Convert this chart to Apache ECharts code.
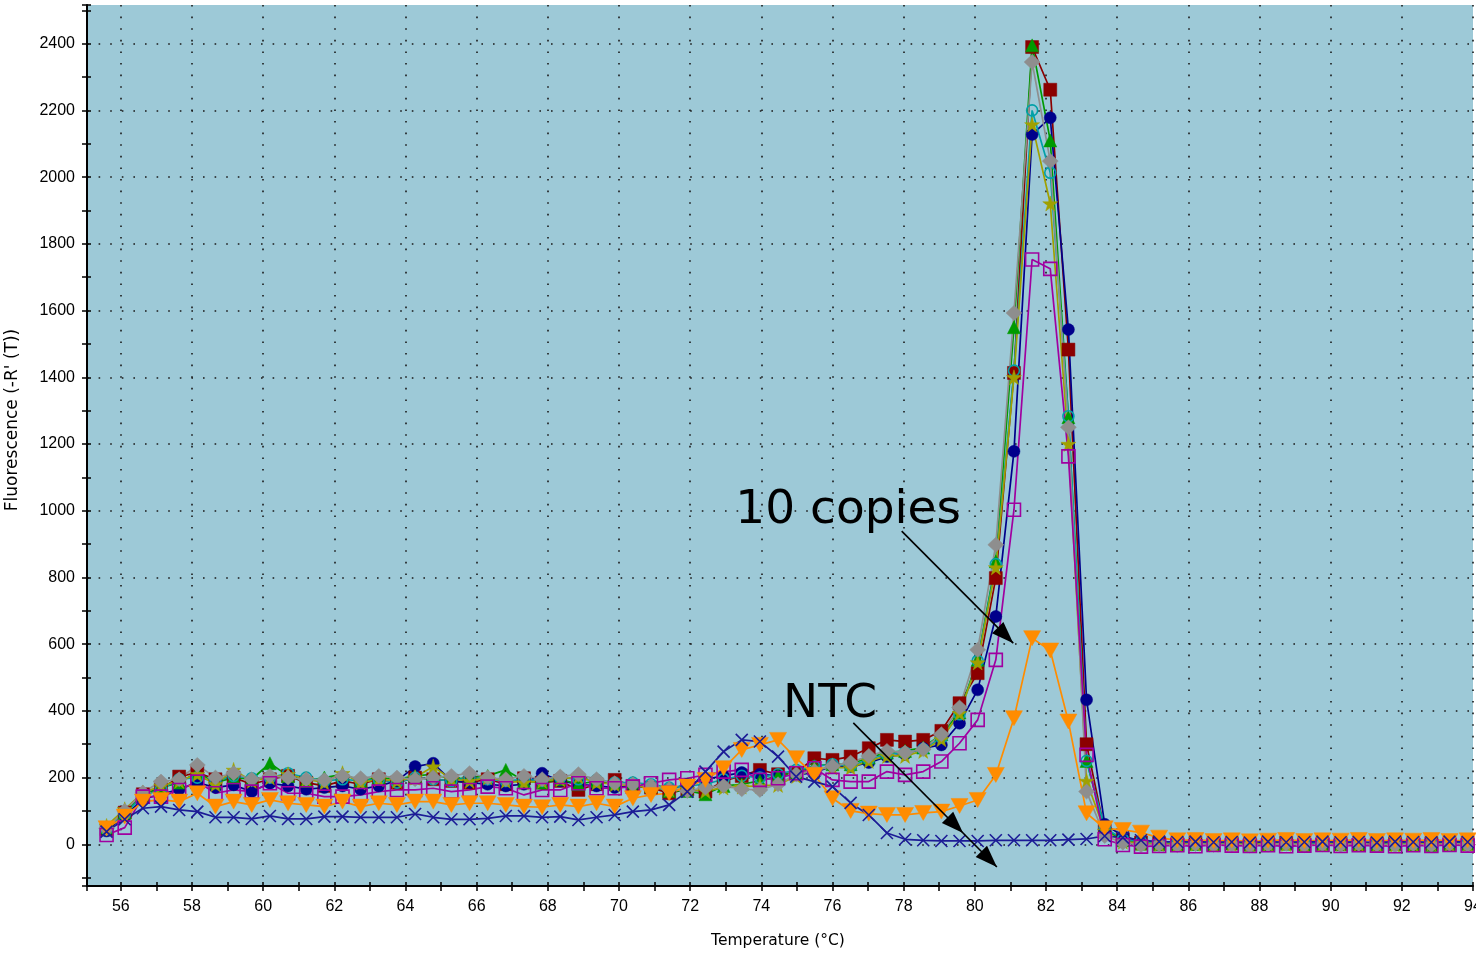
<!DOCTYPE html>
<html>
<head>
<meta charset="utf-8">
<script src="https://cdn.jsdelivr.net/npm/echarts@6/dist/echarts.min.js"></script>
<style>
  html, body { margin: 0; padding: 0; background: #ffffff; }
  #chart { width: 1476px; height: 954px; }
</style>
</head>
<body>
<div id="chart"></div>
<script>
// Melt-curve readings: temperature (°C) of each acquisition step
const temps = [
  55.60, 56.11, 56.62, 57.13, 57.64, 58.15, 58.66, 59.17, 59.68, 60.19,
  60.70, 61.21, 61.72, 62.23, 62.74, 63.25, 63.76, 64.27, 64.78, 65.29,
  65.80, 66.31, 66.82, 67.33, 67.84, 68.35, 68.86, 69.37, 69.88, 70.39,
  70.90, 71.41, 71.92, 72.43, 72.94, 73.45, 73.96, 74.47, 74.98, 75.49,
  76.00, 76.51, 77.02, 77.53, 78.04, 78.55, 79.06, 79.57, 80.08, 80.59,
  81.10, 81.61, 82.12, 82.63, 83.14, 83.65, 84.16, 84.67, 85.18, 85.69,
  86.20, 86.71, 87.22, 87.73, 88.24, 88.75, 89.26, 89.77, 90.28, 90.79,
  91.30, 91.81, 92.32, 92.83, 93.34, 93.85
];

// Fluorescence -R'(T) for each well
const wellA = [
  45, 95, 150, 165, 203, 215, 195, 200, 180, 195,
  205, 185, 175, 190, 180, 195, 185, 200, 195, 190,
  185, 195, 180, 198, 185, 190, 163, 180, 193, 175,
  170, 153, 165, 158, 190, 205, 223, 210, 215, 258,
  253, 263, 288, 313, 308, 313, 340, 423, 513, 798,
  1413, 2390, 2262, 1483, 300, 40, 15, 5, 3, 2,
  4, 1, 3, 0, 2, 5, 1, 3, 2, 0,
  4, 2, 1, 3, 2, 4
];
const wellB = [
  40, 85, 135, 150, 165, 185, 170, 178, 158, 183,
  175, 165, 170, 175, 165, 175, 190, 233, 243, 190,
  185, 180, 175, 180, 213, 190, 180, 175, 170, 175,
  170, 165, 180, 195, 205, 215, 210, 205, 208, 215,
  235, 233, 245, 263, 270, 288, 298, 363, 463, 683,
  1178, 2128, 2178, 1543, 433, 60, 25, 10, 6, 5,
  7, 4, 6, 5, 3, 6, 5, 4, 7, 5,
  4, 6, 5, 4, 6, 5
];
const wellC = [
  50, 95, 150, 170, 185, 215, 185, 200, 195, 243,
  205, 190, 200, 210, 190, 200, 195, 205, 210, 195,
  200, 205, 223, 190, 185, 195, 180, 190, 183, 185,
  175, 160, 160, 150, 175, 180, 190, 205, 215, 235,
  240, 240, 260, 275, 280, 290, 330, 395, 553, 848,
  1550, 2395, 2110, 1280, 250, 45, 12, 2, 0, -2,
  1, 0, 3, -1, 0, 2, -2, 1, 0, 2,
  -1, 0, 1, -2, 0, 1
];
const wellD = [
  45, 90, 145, 165, 195, 200, 190, 205, 198, 200,
  213, 200, 190, 195, 190, 195, 185, 200, 195, 190,
  200, 195, 190, 195, 190, 200, 195, 193, 185, 185,
  180, 170, 175, 180, 195, 205, 200, 210, 223, 233,
  240, 235, 255, 270, 275, 285, 320, 390, 550, 840,
  1420, 2200, 2013, 1283, 250, 50, 15, 8, 5, 4,
  6, 3, 5, 2, 4, 6, 3, 5, 4, 2,
  5, 3, 4, 6, 3, 4
];
const wellE = [
  55, 105, 155, 175, 190, 210, 180, 223, 190, 200,
  210, 195, 185, 213, 185, 195, 190, 200, 233, 195,
  190, 200, 190, 185, 190, 195, 203, 185, 180, 175,
  170, 165, 165, 160, 170, 173, 175, 178, 205, 225,
  230, 230, 250, 265, 265, 280, 315, 393, 545, 830,
  1400, 2158, 1921, 1200, 190, 40, 8, 3, 1, 0,
  2, -1, 1, 0, 2, 1, -1, 0, 2, 1,
  0, -1, 1, 2, 0, 1
];
const wellF = [
  48, 100, 155, 188, 195, 238, 200, 213, 195, 205,
  200, 195, 193, 205, 198, 205, 200, 195, 200, 205,
  213, 200, 195, 205, 195, 203, 210, 195, 183, 180,
  175, 165, 160, 170, 175, 165, 163, 180, 210, 220,
  235, 245, 265, 280, 275, 285, 330, 410, 583, 898,
  1593, 2345, 2048, 1250, 158, 25, 5, -2, 0, -3,
  1, -2, 0, -4, -1, 2, -3, 0, -2, 1,
  -1, -3, 0, -2, 1, -1
];
const wellG = [
  28, 50, 143, 143, 163, 188, 153, 163, 158, 183,
  153, 153, 143, 143, 148, 158, 163, 163, 168, 158,
  163, 173, 168, 148, 163, 163, 183, 168, 168, 173,
  183, 193, 198, 208, 218, 223, 193, 198, 213, 228,
  193, 188, 188, 218, 208, 218, 248, 303, 373, 553,
  1003, 1753, 1725, 1163, 268, 15, -2, -7, -5, -3,
  -6, -2, -4, -5, -3, -6, -4, -2, -5, -3,
  -4, -6, -3, -5, -2, -4
];
const tenCopies = [
  48, 83, 128, 133, 128, 153, 113, 128, 118, 133,
  123, 118, 113, 128, 113, 123, 118, 128, 128, 118,
  123, 123, 118, 113, 111, 118, 113, 123, 113, 138,
  148, 153, 173, 193, 228, 283, 298, 313, 258, 208,
  138, 100, 92, 88, 88, 94, 98, 115, 133, 208,
  378, 618, 581, 368, 93, 48, 43, 35, 20, 12,
  13, 10, 12, 9, 11, 13, 10, 12, 11, 13,
  10, 12, 11, 13, 10, 12
];
const ntc = [
  38, 75, 108, 113, 103, 98, 81, 81, 76, 85,
  76, 76, 83, 83, 81, 81, 81, 91, 81, 75,
  75, 78, 85, 85, 81, 83, 73, 81, 88, 98,
  103, 118, 158, 218, 278, 313, 308, 263, 203, 188,
  173, 124, 88, 34, 15, 12, 10, 10, 10, 12,
  12, 12, 12, 14, 16, 25, 20, 12, 8, 7,
  8, 6, 7, 5, 8, 6, 7, 8, 6, 7,
  5, 8, 7, 6, 8, 7
];

const TICK_FONT = '"Liberation Sans", Arial, sans-serif';
const NAME_FONT = '"DejaVu Sans", Verdana, sans-serif';

const STAR = 'path://M50,0L61,35L98,35L68,57L79,91L50,70L21,91L32,57L2,35L39,35Z';
const CROSS = 'path://M0,0L10,10M10,0L0,10';

// Per-well drawing style (drawn in this order, last on top)
const wells = [
  { name: 'A', values: wellA, color: '#8b0000', symbol: 'rect', size: 13, hollow: false },
  { name: 'B', values: wellB, color: '#00008b', symbol: 'circle', size: 12, hollow: false },
  { name: 'C', values: wellC, color: '#009a00', symbol: 'triangle', size: 13, hollow: false },
  { name: 'D', values: wellD, color: '#00a0a8', symbol: 'circle', size: 11, hollow: true },
  { name: 'E', values: wellE, color: '#a0a000', symbol: STAR, size: 15, hollow: false },
  { name: 'F', values: wellF, color: '#8e8e8e', symbol: 'diamond', size: [16, 15], hollow: false },
  { name: 'G', values: wellG, color: '#a000a0', symbol: 'rect', size: 13, hollow: true },
  { name: '10 copies', values: tenCopies, color: '#ff8c00', symbol: 'triangle', size: [17, 15], rotate: 180, hollow: false },
  { name: 'NTC', values: ntc, color: '#1c1c96', symbol: CROSS, size: 12, hollow: true }
];

function points(values) {
  return temps.map((t, i) => [t, values[i]]);
}

const series = wells.map(w => ({
  type: 'line',
  name: w.name,
  data: points(w.values),
  symbol: w.symbol,
  symbolSize: w.size,
  symbolRotate: w.rotate || 0,
  showAllSymbol: true,
  silent: true,
  animation: false,
  lineStyle: { color: w.color, width: 1.7 },
  itemStyle: w.hollow
    ? { color: 'rgba(0,0,0,0)', borderColor: w.color, borderWidth: 1.6 }
    : { color: w.color, borderColor: w.color, borderWidth: 0.5 },
  emphasis: { disabled: true }
}));

const dotted = { color: '#1a1a1a', width: 1.6, type: [1.6, 10] };
const tickLine = { color: '#000000', width: 1.5 };
const plainNumber = v => String(Math.round(v));

function xAxisBase(inner) {
  return {
    type: 'value', min: 55.05, max: 94, splitNumber: 20, position: 'bottom',
    axisLine: { show: !inner, onZero: false, lineStyle: { color: '#000000', width: 2 } },
    axisTick: { show: true, inside: inner, length: inner ? 4 : 5, lineStyle: tickLine },
    minorTick: { show: true, splitNumber: 2, length: inner ? 4 : 5, lineStyle: tickLine },
    axisLabel: inner ? { show: false } : {
      show: true, showMinLabel: false, color: '#000000', fontSize: 16,
      fontFamily: TICK_FONT, margin: 13, formatter: plainNumber
    },
    splitLine: inner ? { show: false } : { show: true, showMinLine: false, lineStyle: dotted },
    minorSplitLine: { show: false }
  };
}
function yAxisBase(inner) {
  return {
    type: 'value', min: -125, max: 2516, splitNumber: 13, position: 'left',
    axisLine: { show: !inner, onZero: false, lineStyle: { color: '#000000', width: 2 } },
    axisTick: { show: true, inside: inner, length: inner ? 4 : 5, lineStyle: tickLine },
    minorTick: { show: true, splitNumber: 2, length: inner ? 4 : 5, lineStyle: tickLine },
    axisLabel: inner ? { show: false } : {
      show: true, showMinLabel: false, showMaxLabel: false, color: '#000000',
      fontSize: 16, fontFamily: TICK_FONT, margin: 12, formatter: plainNumber
    },
    splitLine: inner ? { show: false } : {
      show: true, showMinLine: false, showMaxLine: false, lineStyle: dotted
    },
    minorSplitLine: { show: false }
  };
}

const chart = echarts.init(document.getElementById('chart'), null, { renderer: 'canvas' });
chart.setOption({
  animation: false,
  backgroundColor: '#ffffff',
  grid: {
    left: 87, right: 3, top: 5, bottom: 68,
    containLabel: false, outerBoundsMode: 'none',
    show: true, backgroundColor: '#9dc9d7', borderWidth: 0
  },
  xAxis: [xAxisBase(false), xAxisBase(true)],
  yAxis: [yAxisBase(false), yAxisBase(true)],
  series: series
});

// Annotations, anchored in data coordinates
const toPx = p => chart.convertToPixel({ seriesIndex: 0 }, p);

function arrow(from, tips) {
  const a = toPx(from);
  const els = [];
  const far = toPx(tips[tips.length - 1]);
  els.push({
    type: 'line', silent: true, z: 100,
    shape: { x1: a[0], y1: a[1], x2: far[0], y2: far[1] },
    style: { stroke: '#000000', lineWidth: 1.6 }
  });
  tips.forEach(tp => {
    const t = toPx(tp);
    const dx = t[0] - a[0], dy = t[1] - a[1];
    const len = Math.hypot(dx, dy);
    const ux = dx / len, uy = dy / len;
    const L = 22, W = 8;
    const bx = t[0] - ux * L, by = t[1] - uy * L;
    els.push({
      type: 'polygon', silent: true, z: 100,
      shape: { points: [[t[0], t[1]], [bx - uy * W, by + ux * W], [bx + uy * W, by - ux * W]] },
      style: { fill: '#000000' }
    });
  });
  return els;
}

function label(text, at) {
  const p = toPx(at);
  return {
    type: 'text', silent: true, z: 100, x: p[0], y: p[1],
    style: {
      text: text, fill: '#000000', fontSize: 47, fontFamily: NAME_FONT,
      align: 'left', verticalAlign: 'middle', textAlign: 'left', textVerticalAlign: 'middle'
    }
  };
}

const elements = []
  .concat(arrow([77.945, 939], [[81.08, 603]]))
  .concat(arrow([76.585, 364], [[79.67, 34], [80.62, -68]]))
  .concat([
    label('10 copies', [73.27, 999]),
    label('NTC', [74.61, 418]),
    {
      type: 'text', silent: true, x: 778, y: 941,
      style: {
        text: 'Temperature (°C)', fill: '#000000', fontSize: 15.5, fontFamily: NAME_FONT,
        align: 'center', verticalAlign: 'middle', textAlign: 'center', textVerticalAlign: 'middle'
      }
    },
    {
      type: 'text', silent: true, x: 13, y: 420, rotation: Math.PI / 2,
      style: {
        text: "Fluorescence (-R' (T))", fill: '#000000', fontSize: 17, fontFamily: NAME_FONT,
        align: 'center', verticalAlign: 'middle', textAlign: 'center', textVerticalAlign: 'middle'
      }
    }
  ]);

chart.setOption({ graphic: { elements: elements } });
</script>
</body>
</html>
